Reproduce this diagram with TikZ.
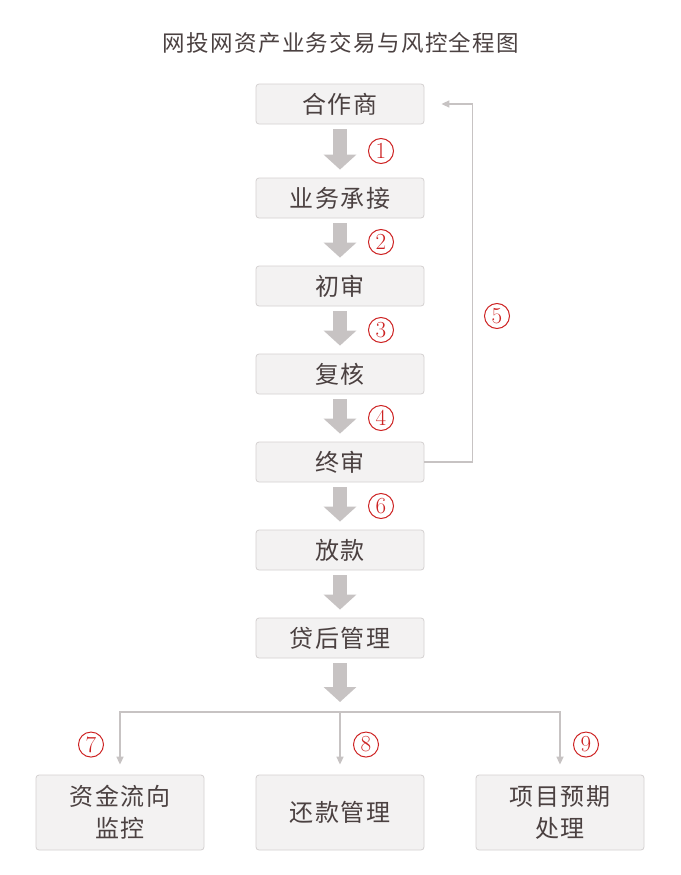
\documentclass[tikz,border=0pt]{standalone}
\usepackage{fontspec}
\usetikzlibrary{positioning}
\usetikzlibrary{arrows.meta}
\newfontfamily\cjk[LetterSpace=6]{Noto Sans CJK SC}
\definecolor{boxfill}{RGB}{243,242,242}
\definecolor{boxline}{RGB}{212,208,208}
\definecolor{flowgray}{RGB}{199,195,195}
\definecolor{textgray}{RGB}{75,65,65}
\definecolor{numred}{RGB}{205,35,35}

\begin{document}
\begin{tikzpicture}[x=1pt, y=-1pt, node distance=47.2pt,
    every node/.style={align=center, text=textgray},
    stepbox/.style={draw=boxline, fill=boxfill, line width=0.8pt, rounded corners=3pt, minimum width=168pt, minimum height=40pt, inner sep=0pt, font=\cjk\fontsize{24}{32}\selectfont},
    fatarrow/.style={draw=flowgray, line width=14pt, -{Triangle[width=32pt,length=15pt]}, shorten <=5pt, shorten >=8pt},
    thinarrow/.style={draw=flowgray, line width=1.6pt, -{Triangle[width=7pt,length=8pt]}},
    num/.style={circle, draw=numred, line width=1pt, text=numred, minimum size=25pt, inner sep=0pt, font=\fontsize{23}{23}\selectfont}]

        \useasboundingbox (0,0) rectangle (680,875);

        % Title
        \node[font=\cjk\fontsize{22.5}{22.5}\selectfont] (title) at (341,43) {网投网资产业务交易与风控全程图};

        % Main column
        \node[stepbox] (hzs) at (340,104) {合作商};
        \node[stepbox, below=53.2pt of hzs] (ywcj) {业务承接};
        \node[stepbox, below=of ywcj] (cs) {初审};
        \node[stepbox, below=of cs] (fh) {复核};
        \node[stepbox, below=of fh] (zs) {终审};
        \node[stepbox, below=of zs] (fk) {放款};
        \node[stepbox, below=of fk] (dhgl) {贷后管理};

        % Bottom row
        \node[stepbox, minimum height=75pt, below=116.2pt of dhgl] (hkgl) {还款管理};
        \node[stepbox, minimum height=75pt, left=51.2pt of hkgl] (zjlx) {资金流向\\监控};
        \node[stepbox, minimum height=75pt, right=51.2pt of hkgl] (xmyq) {项目预期\\处理};

        % Flow arrows
        \draw[fatarrow] (hzs) -- node[num, right=28pt] {1} (ywcj);
        \draw[fatarrow] (ywcj) -- node[num, right=28pt] {2} (cs);
        \draw[fatarrow] (cs) -- node[num, right=28pt] {3} (fh);
        \draw[fatarrow] (fh) -- node[num, right=28pt] {4} (zs);
        \draw[fatarrow] (zs) -- node[num, right=28pt] {6} (fk);
        \draw[fatarrow] (fk) -- (dhgl);

        % Feedback loop
        \draw[thinarrow, shorten >=17pt] (zs.east) -- ++(48,0) |- (hzs.east);
        \node[num] (n5) at (497,316) {5};

        % Branches
        \coordinate (fork) at (340,712);
        \draw[fatarrow, shorten >=10pt] (dhgl) -- (fork);
        \draw[thinarrow, shorten >=10pt] (fork) -- node[num, pos=0.52, right=13pt] {8} (hkgl);
        \draw[thinarrow, shorten >=10pt] (fork) -| node[num, pos=0.76, left=16pt] {7} (zjlx);
        \draw[thinarrow, shorten >=10pt] (fork) -| node[num, pos=0.76, right=13pt] {9} (xmyq);

    \end{tikzpicture}
\end{document}
